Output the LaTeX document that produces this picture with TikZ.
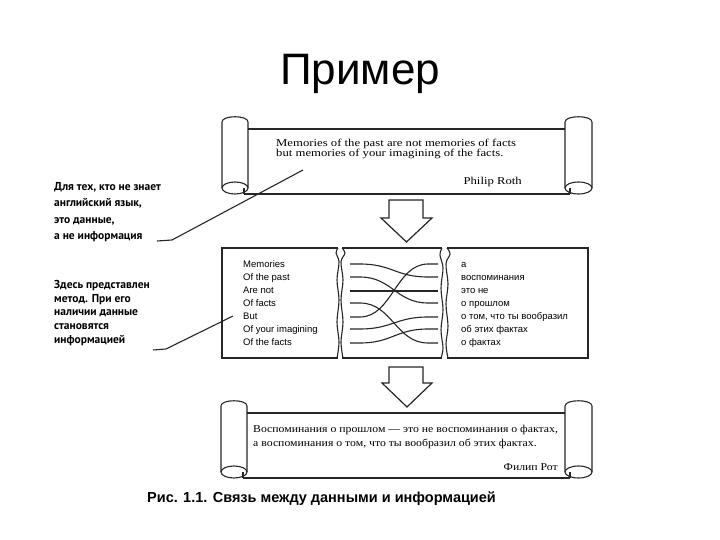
\documentclass[tikz,border=0pt]{standalone}
\usepackage{fontspec}
\usepackage{graphicx}
\setmainfont{Liberation Serif}
\setsansfont{Liberation Sans}
\newfontfamily\notefont{PT Sans}
\newcommand\qtxt[1]{\scalebox{1.21}[1]{#1}}
\newcommand\qtxtc[1]{\scalebox{1.12}[1]{#1}}
\newcommand\drawscroll[4]{% L, R, yT, yB
  \draw[scrollline] (#1,#4-6) -- (#1,#3-7) .. controls (#1,#3-14) and (#1+26,#3-14) .. (#1+26,#3-7) -- (#1+26,#4-6);
  \draw[scrollline] (#1+13,#4-6) ellipse [x radius=13, y radius=6];
  \draw[scrollline] (#1+22,#4-6) -- (#1+22,#4);
  \draw[scrollline] (#2-27,#4-6) -- (#2-27,#3-7) .. controls (#2-27,#3-14) and (#2,#3-14) .. (#2,#3-7) -- (#2,#4-6);
  \draw[scrollline] (#2-13.5,#4-6) ellipse [x radius=13.5, y radius=6];
  \draw[scrollline] (#2-22,#4-6) -- (#2-22,#4);
  \draw[scrollline] (#1+26,#3) -- (#2-27,#3);
  \draw[scrollline] (#1+22,#4) -- (#2-22,#4);
}
\newcommand\linkrow[2]{%
  \draw[linkline] (350,#1) -- (360,#1) .. controls (392,#1) and (396,#2) .. (428,#2) -- (438,#2);
}
\begin{document}
\begin{tikzpicture}[x=1pt,y=-1pt,
  scrollline/.style={line width=1.1pt, black!85},
  panelline/.style={line width=1.1pt, black!85},
  linkline/.style={line width=1.1pt, black!85},
  quote/.style={inner sep=0pt, font=\fontsize{10.5}{12}\selectfont},
  ptext/.style={inner sep=0pt, anchor=base west, font=\sffamily\fontsize{9.5}{11}\selectfont},
  note/.style={inner sep=0pt, anchor=base west, font=\notefont\bfseries\fontsize{11.5}{13}\selectfont},
  blockarrow/.style={line width=1.2pt, black!85, fill=white, line join=miter}]
\useasboundingbox (0,0) rectangle (720,540);

% title
\node[anchor=base, inner sep=0pt, font=\sffamily\fontsize{44}{50}\selectfont] (title) at (360,85) {Пример};

% top scroll
\drawscroll{222}{592}{129}{194}
\node[quote, anchor=base west] (q1) at (276,147) {\qtxt{Memories of the past are not memories of facts}};
\node[quote, anchor=base west] (q2) at (276,157) {\qtxt{but memories of your imagining of the facts.}};
\node[quote, anchor=base east] (q3) at (522,185) {\qtxt{Philip Roth}};

% arrow 1
\draw[blockarrow] (389,200) -- (423,200) -- (423,218) -- (432,218) -- (406.5,242) -- (381,218) -- (389,218) -- cycle;

% middle panels
\draw[panelline] (338,248) -- (222,248) -- (222,358) -- (338,358);
\draw[panelline] plot[smooth, tension=0.6] coordinates {(338,248) (336,253) (339,262) (337,280) (339,300) (337,322) (339,342) (337,358)};
\draw[panelline] (342,248) -- (442,248);
\draw[panelline] (342,358) -- (442,358);
\draw[panelline] plot[smooth, tension=0.6] coordinates {(342,248) (345,253) (341,262) (343,280) (341,300) (343,322) (341,342) (343,358)};
\draw[panelline] plot[smooth, tension=0.6] coordinates {(442,248) (440,255) (443,268) (441,288) (443,310) (441,330) (443,348) (441,358)};
\draw[panelline] (447,248) -- (588,248) -- (588,358) -- (447,358);
\draw[panelline] plot[smooth, tension=0.6] coordinates {(447,248) (450,254) (446,264) (448,284) (446,304) (448,326) (446,344) (448,358)};

\node[ptext] (e1) at (243,267) {Memories};
\node[ptext] (e2) at (243,280) {Of the past};
\node[ptext] (e3) at (243,293) {Are not};
\node[ptext] (e4) at (243,306) {Of facts};
\node[ptext] (e5) at (243,319) {But};
\node[ptext] (e6) at (243,332) {Of your imagining};
\node[ptext] (e7) at (243,345) {Of the facts};

\node[ptext] (r1) at (461,267) {а};
\node[ptext] (r2) at (461,280) {воспоминания};
\node[ptext] (r3) at (461,293) {это не};
\node[ptext] (r4) at (461,306) {о прошлом};
\node[ptext] (r5) at (461,319) {о том, что ты вообразил};
\node[ptext] (r6) at (461,332) {об этих фактах};
\node[ptext] (r7) at (461,345) {о фактах};

\linkrow{264}{277}
\linkrow{277}{303}
\linkrow{291}{291}
\linkrow{303}{343}
\linkrow{317}{264}
\linkrow{329}{317}
\linkrow{343}{329}

% arrow 2
\draw[blockarrow] (389,367) -- (423,367) -- (423,383) -- (432,383) -- (407,407) -- (382,383) -- (389,383) -- cycle;

% bottom scroll
\drawscroll{221}{592}{413}{478}
\node[quote, anchor=base west] (b1) at (253,432) {\qtxtc{Воспоминания о прошлом — это не воспоминания о фактах,}};
\node[quote, anchor=base west] (b2) at (253,446) {\qtxtc{а воспоминания о том, что ты вообразил об этих фактах.}};
\node[quote, anchor=base east] (b3) at (558,470) {\qtxtc{Филип Рот}};

% annotations
\node[note] (a1) at (54,191) {Для тех, кто не знает};
\node[note] (a2) at (54,207) {английский язык,};
\node[note] (a3) at (54,223) {это данные,};
\node[note] (a4) at (54,240) {а не информация};
\coordinate (p1s) at (157,241);
\coordinate (p1m) at (172,240);
\coordinate (p1e) at (303,170);
\draw[linkline] (p1s) -- (p1m) -- (p1e);

\node[note] (m1) at (54,288) {Здесь представлен};
\node[note] (m2) at (54,302) {метод. При его};
\node[note] (m3) at (54,315) {наличии данные};
\node[note] (m4) at (54,329) {становятся};
\node[note] (m5) at (54,343) {информацией};
\coordinate (p2s) at (153,350);
\coordinate (p2m) at (166,349);
\coordinate (p2e) at (233,316);
\draw[linkline] (p2s) -- (p2m) -- (p2e);

% caption
\node[anchor=base west, inner sep=0pt, font=\sffamily\bfseries\fontsize{14.5}{16}\selectfont] (cap) at (147,502) {Рис. 1.1. Связь между данными и информацией};
\end{tikzpicture}
\end{document}
